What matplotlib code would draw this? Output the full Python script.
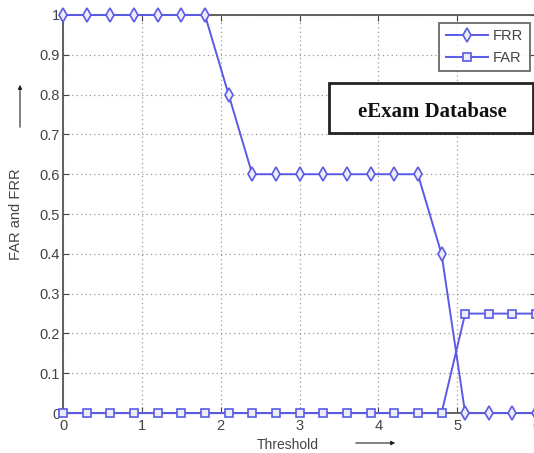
import matplotlib
matplotlib.use("Agg")
import matplotlib.pyplot as plt
from matplotlib.patches import Rectangle, FancyArrowPatch

threshold = [0.0, 0.3, 0.6, 0.9, 1.2, 1.5, 1.8, 2.1, 2.4, 2.7, 3.0, 3.3, 3.6, 3.9, 4.2, 4.5, 4.8, 5.1, 5.4, 5.7, 6.0]
frr = [1, 1, 1, 1, 1, 1, 1, 0.8, 0.6, 0.6, 0.6, 0.6, 0.6, 0.6, 0.6, 0.6, 0.4, 0, 0, 0, 0]
far = [0, 0, 0, 0, 0, 0, 0, 0, 0, 0, 0, 0, 0, 0, 0, 0, 0, 0.25, 0.25, 0.25, 0.25]
xticks = [0, 1, 2, 3, 4, 5, 6]
yticks = [0, 0.1, 0.2, 0.3, 0.4, 0.5, 0.6, 0.7, 0.8, 0.9, 1]
ytick_labels = ["0", "0.1", "0.2", "0.3", "0.4", "0.5", "0.6", "0.7", "0.8", "0.9", "1"]

blue = "#5a5ae6"
plt.rcParams['font.family'] = ['Liberation Sans', 'DejaVu Sans']

fig = plt.figure(figsize=(5.34, 4.53), dpi=100)
ax = fig.add_axes([0.118, 0.088, 0.886, 0.879])

ax.plot(threshold, frr, color=blue, lw=1.4, marker='d', ms=7, mfc='#ececfa', mec=blue, mew=1.2,
        label='FRR', clip_on=False, zorder=3)
ax.plot(threshold, far, color=blue, lw=1.4, marker='s', ms=6.2, mfc='#ececfa', mec=blue, mew=1.2,
        label='FAR', clip_on=False, zorder=3)

ax.set_xlim(0, 6)
ax.set_ylim(0, 1)
ax.set_xticks(xticks)
ax.set_yticks(yticks)
ax.set_yticklabels(ytick_labels)
ax.tick_params(direction='in', length=4, top=True, right=True, labelsize=10.5, colors='#444444', pad=2)
ax.tick_params(axis='x', pad=4)
ax.grid(True, linestyle=(0, (1, 2.5)), color='#999999', lw=0.9)
for s in ax.spines.values():
    s.set_color('#555555')
    s.set_linewidth(1.3)

ax.set_xlabel('Threshold', fontsize=10, color='#444444')
ax.xaxis.set_label_coords(0.474, -0.063)
ax.set_ylabel('FAR and FRR', fontsize=10.5, color='#444444')
ax.yaxis.set_label_coords(-0.085, 0.5)

# arrows
fig.add_artist(FancyArrowPatch((20/534, 1-130/453), (20/534, 1-82/453),
               transform=fig.transFigure, arrowstyle='-|>', mutation_scale=6, color='#222222', lw=0.8))
fig.add_artist(FancyArrowPatch((353/534, 1-443/453), (398/534, 1-443/453),
               transform=fig.transFigure, arrowstyle='-|>', mutation_scale=6, color='#222222', lw=0.8))

leg = ax.legend(loc='upper right', bbox_to_anchor=(0.987, 0.98), fontsize=10.5, handlelength=2.9,
                frameon=True, fancybox=False, edgecolor='#444444', borderpad=0.45, labelspacing=0.5,
                handletextpad=0.35, borderaxespad=0)
leg.get_frame().set_linewidth(1.3)
for t in leg.get_texts():
    t.set_color('#444444')

ax.add_patch(Rectangle((0.562, 0.7035), 0.432, 0.1255, transform=ax.transAxes, fc='white',
                       ec='#222222', lw=2.0, zorder=5, clip_on=False))
ax.text(0.78, 0.757, 'eExam Database', transform=ax.transAxes, ha='center', va='center',
        family=['Liberation Serif'], fontweight='bold', fontsize=15, color='#111111', zorder=6)

fig.savefig('out.png', dpi=100)
